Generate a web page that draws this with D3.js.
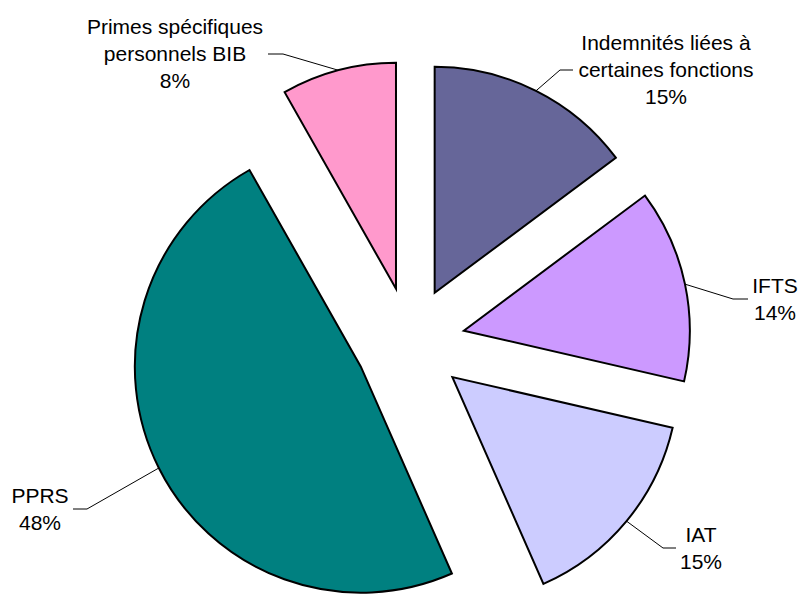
<!DOCTYPE html>
<html>
<head>
<meta charset="utf-8">
<script src="https://cdn.jsdelivr.net/npm/d3@7"></script>
<style>
  body { margin: 0; background: #fff; }
  text { font-family: Arial, 'Liberation Sans', sans-serif; font-size: 21px; fill: #000; }
</style>
</head>
<body>
<script>
let width = 800,
    height = 594

// data
const categories = ['Indemnités liées à\ncertaines fonctions', 'IFTS', 'IAT', 'PPRS', 'Primes spécifiques\npersonnels BIB']
const values = [14.8, 13.8, 14.8, 48.4, 8.2]
const colors = ['#666699', '#CC99FF', '#CCCCFF', '#008080', '#FF99CC']

// label layout: text centre x, first baseline, elbow point, end of the short horizontal bit
const labelLayout = [
  {tx: 666, ty: 50, ex: 560, ey: 70, hx: 573},
  {tx: 775, ty: 293, ex: 733, ey: 299, hx: 748},
  {tx: 701, ty: 542, ex: 663, ey: 548, hx: 676},
  {tx: 40, ty: 503, ex: 87, ey: 509, hx: 73},
  {tx: 175, ty: 34, ex: 283, ey: 54, hx: 268}
]

const cx = 410, cy = 342
const radius = 226
const explode = 55
const lineStep = 27

let svg = d3.select('body').append('svg')
    .attr('width', width)
    .attr('height', height)

let total = d3.sum(values)
let pct = d3.format('.0%')

let pie = d3.pie().sort(null).value(d => d)
let arcs = pie(values)
let arc = d3.arc().innerRadius(0).outerRadius(radius)

let pieGroup = svg.append('g')
    .attr('transform', 'translate(' + cx + ',' + cy + ')')

const unit = a => [Math.sin(a), -Math.cos(a)]

pieGroup.selectAll('.slice')
  .data(arcs)
  .enter().append('path')
    .attr('class', 'slice')
    .attr('d', arc)
    .attr('fill', (d, i) => colors[i])
    .attr('stroke', '#000')
    .attr('stroke-width', 2)
    .attr('stroke-linejoin', 'miter')
    .attr('transform', d => {
      let u = unit((d.startAngle + d.endAngle) / 2)
      return 'translate(' + explode * u[0] + ',' + explode * u[1] + ')'
    })

// leader lines + labels
let labelGroup = svg.append('g')
arcs.forEach((d, i) => {
  let u = unit((d.startAngle + d.endAngle) / 2)
  let L = labelLayout[i]
  let sx = cx + (explode + radius) * u[0], sy = cy + (explode + radius) * u[1]
  labelGroup.append('polyline')
      .attr('points', [[sx, sy], [L.ex, L.ey], [L.hx, L.ey]].map(p => p.join(',')).join(' '))
      .attr('fill', 'none')
      .attr('stroke', '#000')
      .attr('stroke-width', 1)

  let lines = categories[i].split('\n').concat([pct(values[i] / total)])
  let t = labelGroup.append('text')
      .attr('text-anchor', 'middle')
  lines.forEach((s, j) => {
    t.append('tspan')
        .attr('x', L.tx)
        .attr('y', L.ty + j * lineStep)
        .text(s)
  })
})
</script>
</body>
</html>
